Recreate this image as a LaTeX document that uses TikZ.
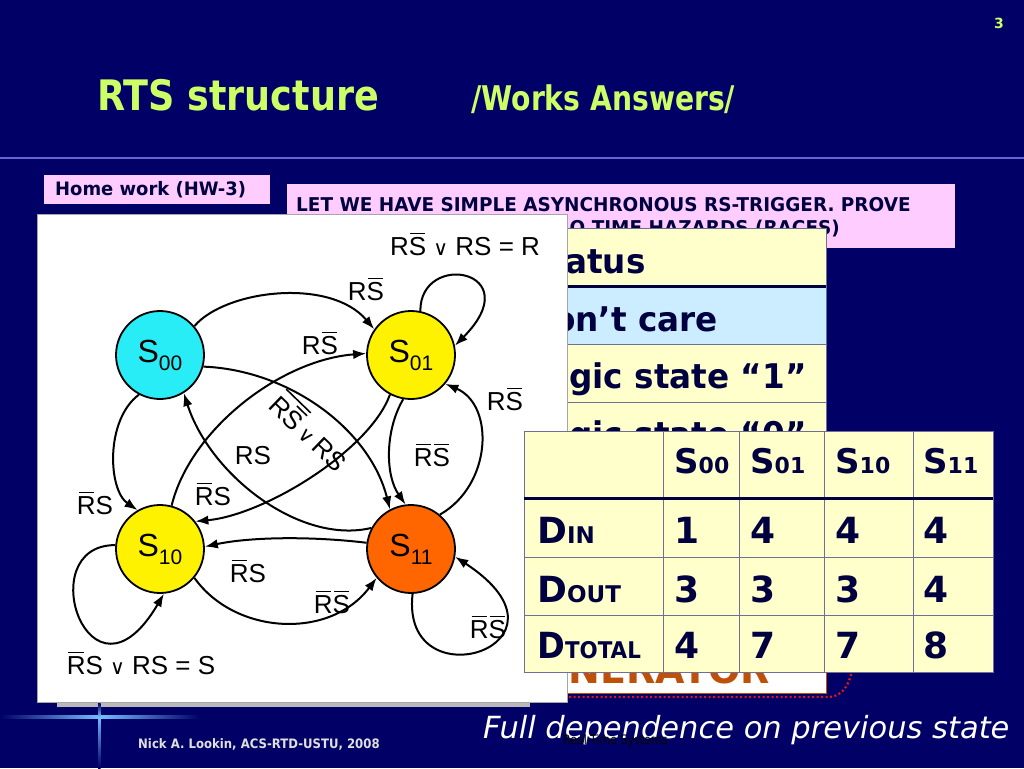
\documentclass[tikz,border=0pt]{standalone}
\usepackage{fontspec}
\usepackage{graphicx}
\setmainfont{DejaVu Sans}
\newfontfamily\arialf{Liberation Sans}
\usetikzlibrary{arrows.meta}
\definecolor{bg}{RGB}{0,0,102}
\definecolor{ttl}{RGB}{204,255,102}
\definecolor{navy}{RGB}{0,0,64}
\definecolor{pinkb}{RGB}{255,204,255}
\definecolor{tyel}{RGB}{255,255,204}
\definecolor{tblue}{RGB}{204,236,255}
\definecolor{cyanS}{RGB}{40,236,246}
\definecolor{yelS}{RGB}{255,242,0}
\definecolor{oraS}{RGB}{255,102,0}
\definecolor{gridc}{RGB}{110,110,150}
\definecolor{rulec}{RGB}{100,100,210}
\definecolor{glow}{RGB}{120,190,255}
\definecolor{brownT}{RGB}{190,80,10}
\definecolor{dotred}{RGB}{230,20,20}
\newcommand\fsz[1]{\fontsize{#1}{#1}\selectfont}
\newcommand\ovl[1]{\setbox0=\hbox{#1}\rlap{\kern0.06em\rule[0.8em]{\dimexpr\wd0-0.12em\relax}{0.06em}}\box0}
\newcommand\ovlh[1]{\setbox2=\hbox{#1}\rlap{\kern0.04em\rule[0.98em]{\dimexpr\wd2-0.08em\relax}{0.06em}}\box2}
\newcommand\orsym{{\normalfont\scalebox{0.78}{\char"2228}}}
\tikzset{
  st/.style={circle,draw=black,line width=1.8pt,minimum size=88pt,inner sep=0pt,font=\arialf},
  lb/.style={inner sep=0pt,font=\arialf\fsz{26},text=black},
  ed/.style={line width=2pt,-{Latex[length=13pt,width=9.5pt]}},
  tx/.style={inner sep=0pt,anchor=base west},
  big/.style={tx,text=navy,font=\bfseries\fsz{34}},
  cell/.style={tx,text=navy,font=\bfseries\fsz{36}},
}
\begin{document}
\begin{tikzpicture}[x=1pt,y=-1pt]
\useasboundingbox (0,0) rectangle (1024,768);
\fill[bg] (0,0) rectangle (1024,768);
% title
\node[tx,text=ttl,font=\bfseries\fsz{42}] (t1) at (97,110) {\scalebox{0.87}[1]{RTS structure}};
\node[tx,text=ttl,font=\bfseries\fsz{34}] (t2) at (471,110) {\scalebox{0.83}[1]{/Works Answers/}};
\node[tx,text=ttl,font=\bfseries\fsz{14}] (pg) at (994,29) {3};
\draw[rulec,line width=2.5pt] (0,158) -- (1024,158);
% pink boxes
\node[fill=pinkb,anchor=north west,minimum width=226pt,minimum height=29pt,inner sep=0pt] (hw) at (44,175) {};
\node[tx,text=navy,font=\bfseries\fsz{18.5}] (hwt) at (55,195) {\scalebox{0.97}[1]{Home work (HW-3)}};
\node[fill=pinkb,anchor=north west,minimum width=668pt,minimum height=64pt,inner sep=0pt] (letbox) at (287,184) {};
\node[tx,text=navy,font=\bfseries\fsz{19}] (let1) at (296,211) {\scalebox{0.97}[1]{LET WE HAVE SIMPLE ASYNCHRONOUS RS-TRIGGER. PROVE}};
\node[inner sep=0pt,anchor=base east,text=navy,font=\bfseries\fsz{19}] (let2) at (840,234) {\scalebox{0.97}[1]{THAT IT HAS NO TIME HAZARDS (RACES)}};
% status table (behind)
\fill[tyel] (470,228) rectangle (826,285);
\fill[tblue] (470,287) rectangle (826,344);
\fill[tyel] (470,344) rectangle (826,470);
\draw[navy,line width=3pt] (470,286) -- (826,286);
\draw[gridc,line width=1pt] (470,344) -- (826,344) (470,402) -- (826,402);
\draw[gridc,line width=1pt] (470,228) rectangle (826,470);
\node[big] (s1) at (526,273) {\scalebox{0.96}[1]{Status}};
\node[big] (s2) at (526,331) {\scalebox{0.96}[1]{Don’t care}};
\node[big] (s3) at (526,388) {\scalebox{0.96}[1]{Logic state “1”}};
\node[big] (s4) at (526,446) {\scalebox{0.96}[1]{Logic state “0”}};
% generator box (behind)
\fill[white] (470,640) rectangle (826,693);
\draw[brownT,line width=0.8pt] (470,693) -- (826,693) -- (826,640);
\node[inner sep=0pt,anchor=base east,text=brownT,font=\bfseries\fsz{38}] (gen) at (770,683) {GENERATOR};
\draw[dotred,line width=2.2pt,dash pattern=on 2pt off 2.5pt] (470,697) -- (828,697) .. controls (842,697) and (850,686) .. (853,664);
% diagram box
\fill[gray!55] (57,701) rectangle (530,707);
\node[fill=white,draw=gray!70,line width=1pt,anchor=north west,minimum width=530pt,minimum height=488pt,inner sep=0pt] (dbox) at (37,214) {};
% states
\node[st,fill=cyanS] (s00) at (160,355) {{\fsz{32}S}\raisebox{-8pt}{\fsz{21}00}};
\node[st,fill=yelS]  (s01) at (411,355) {{\fsz{32}S}\raisebox{-8pt}{\fsz{21}01}};
\node[st,fill=yelS]  (s10) at (160,549) {{\fsz{32}S}\raisebox{-8pt}{\fsz{21}10}};
\node[st,fill=oraS]  (s11) at (411,549) {{\fsz{32}S}\raisebox{-8pt}{\fsz{21}11}};
% edges
\draw[ed] (s00.40) .. controls (225,290) and (330,277) .. (s01.145);
\draw[ed] (s10.75) .. controls (190,430) and (280,360) .. (s01.178);
\draw[ed] (s00.-15) .. controls (290,370) and (370,430) .. (s11.118);
\draw[ed] (s11.152) .. controls (300,545) and (210,475) .. (s00.-58);
\draw[ed] (s01.-118) .. controls (370,450) and (265,515) .. (s10.38);
\draw[ed] (s01.-100) .. controls (385,430) and (385,475) .. (s11.97);
\draw[ed] (s11.50) .. controls (492,485) and (495,405) .. (s01.-40);
\draw[ed] (s01.78) .. controls (420,250) and (530,270) .. (s01.12);
\draw[ed] (s00.-118) .. controls (105,420) and (108,490) .. (s10.120);
\draw[ed] (s10.175) .. controls (30,545) and (90,720) .. (s10.-85);
\draw[ed] (s11.172) .. controls (310,536) and (250,537) .. (s10.3);
\draw[ed] (s10.-40) .. controls (235,635) and (330,640) .. (s11.-140);
\draw[ed] (s11.-88) .. controls (400,705) and (590,645) .. (s11.-10);
% labels
\node[lb] (lr) at (465,244) {R\ovl{S}\ \orsym\ RS = R};
\node[lb] (la) at (366,289) {R\ovl{S}};
\node[lb] (lb2) at (320,343) {R\ovl{S}};
\node[lb] (lc) at (505,399) {R\ovl{S}};
\node[lb,rotate=-44] (lx) at (311,431) {\ovlh{R\ovl{S}}\,\orsym\,RS};
\node[lb] (ld) at (253,456) {RS};
\node[lb] (le) at (432,455) {\ovl{R}\ovl{S}};
\node[lb] (lf) at (95,503) {\ovl{R}S};
\node[lb] (lg) at (213,494) {\ovl{R}S};
\node[lb] (lh) at (248,571) {\ovl{R}S};
\node[lb] (li) at (332,602) {\ovl{R}\ovl{S}};
\node[lb] (lj) at (488,627) {\ovl{R}\ovl{S}};
\node[lb] (lk) at (141,663) {\ovl{R}S\ \orsym\ RS = S};
% lower table
\fill[tyel] (524,431) rectangle (993,672);
\foreach \xx in {663,739,824,913} \draw[gridc,line width=1pt] (\xx,431) -- (\xx,672);
\draw[gridc,line width=1pt] (524,557) -- (993,557) (524,615) -- (993,615);
\draw[gridc,line width=1pt] (524,431) rectangle (993,672);
\draw[navy,line width=3pt] (524,498) -- (993,498);
\node[cell] (h1) at (674,473) {\fsz{34}S{\fsz{22}00}};
\node[cell] (h2) at (750,473) {\fsz{34}S{\fsz{22}01}};
\node[cell] (h3) at (835,473) {\fsz{34}S{\fsz{22}10}};
\node[cell] (h4) at (923,473) {\fsz{34}S{\fsz{22}11}};
\node[cell] (r1) at (537,543) {D{\fsz{23}IN}};
\node[cell] (r2) at (537,602) {D{\fsz{23}OUT}};
\node[cell] (r3) at (537,658) {\scalebox{0.93}[1]{D{\fsz{23}TOTAL}}};
\node[cell] (v11) at (674,543) {1};
\node[cell] (v12) at (750,543) {4};
\node[cell] (v13) at (835,543) {4};
\node[cell] (v14) at (923,543) {4};
\node[cell] (v21) at (674,602) {3};
\node[cell] (v22) at (750,602) {3};
\node[cell] (v23) at (835,602) {3};
\node[cell] (v24) at (923,602) {4};
\node[cell] (v31) at (674,658) {4};
\node[cell] (v32) at (750,658) {7};
\node[cell] (v33) at (835,658) {7};
\node[cell] (v34) at (923,658) {8};
% footer
\shade[left color=bg,right color=bg,middle color=glow] (0,715.5) rectangle (200,718.5);
\shade[top color=glow,bottom color=bg] (98,717) rectangle (100.5,768);
\shade[top color=bg,bottom color=glow] (98,703) rectangle (100.5,717);
\node[tx,text=white,font=\itshape\fsz{30.5}] (full) at (483,738) {Full dependence on previous state};
\node[tx,text=black,font=\fsz{13}] (rts) at (563,744) {\scalebox{0.85}[1]{Real-Time Systems}};
\node[tx,text=gray!25,font=\bfseries\fsz{13}] (nick) at (138,748) {\scalebox{0.9}[1]{Nick A. Lookin, ACS-RTD-USTU, 2008}};
\end{tikzpicture}
\end{document}
